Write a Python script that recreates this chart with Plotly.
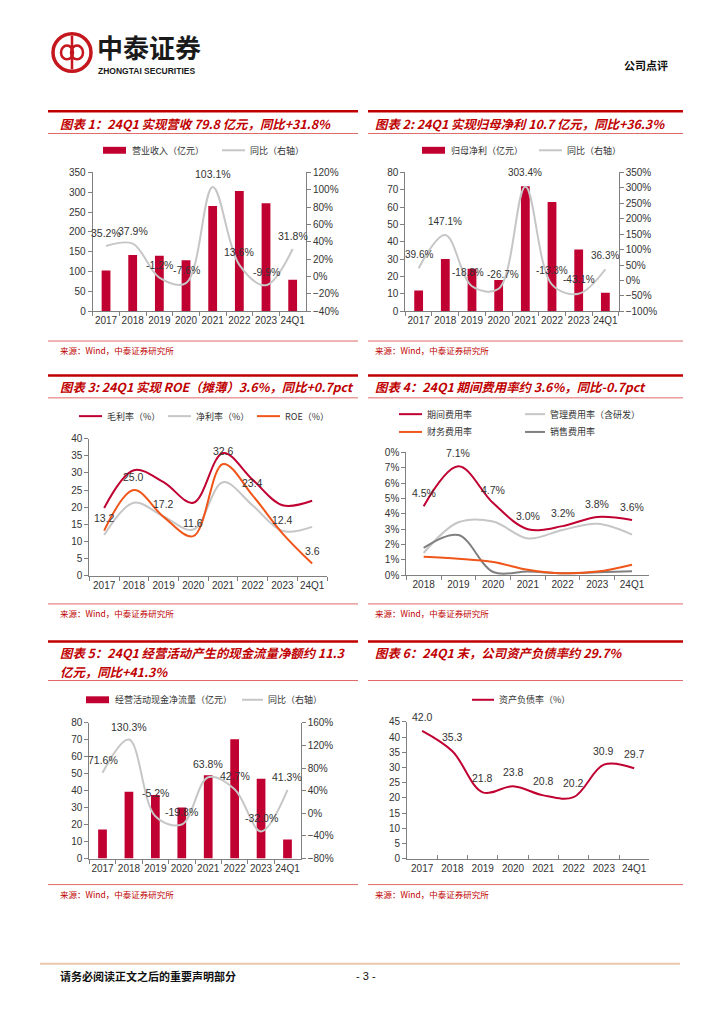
import plotly.graph_objects as go

W, H = 724, 1024
def X(p): return p / W
def Y(p): return 1 - p / H

# ---------------- data ----------------
cats8 = ["2017", "2018", "2019", "2020", "2021", "2022", "2023", "24Q1"]
cats7 = ["2018", "2019", "2020", "2021", "2022", "2023", "24Q1"]

rev = [103, 142, 140, 129, 265, 303, 272, 79.8]
rev_yoy = [35.2, 37.9, -1.2, -7.6, 103.1, 13.6, -9.9, 31.8]

netp = [12.0, 30.1, 24.5, 18.0, 72.0, 63.0, 35.6, 10.7]
netp_yoy = [39.6, 147.1, -18.8, -26.7, 303.4, -13.3, -43.1, 36.3]

gross_m = [19.8, 30.8, 27.3, 21.3, 35.8, 28.0, 20.6, 21.9]
net_m = [11.9, 21.3, 17.3, 13.5, 27.3, 20.5, 13.1, 14.3]
roe = [13.2, 25.0, 17.2, 11.6, 32.6, 23.4, 12.4, 3.6]

exp_total = [4.5, 7.1, 4.7, 3.0, 3.2, 3.8, 3.6]
exp_admin = [1.45, 3.45, 3.5, 2.4, 2.95, 3.35, 2.65]
exp_fin = [1.2, 1.07, 0.86, 0.36, 0.13, 0.24, 0.69]
exp_sell = [1.78, 2.62, 0.21, 0.24, 0.13, 0.19, 0.26]
exp_ticktext = ["0%", "1%", "2%", "3%", "4%", "5%", "6%", "7%", "0%"]

ocf = [17.1, 39.4, 37.5, 30.1, 49.1, 70.3, 47.0, 11.3]
ocf_yoy = [71.6, 130.3, -5.2, -19.8, 63.8, 42.7, -32.0, 41.3]

debt = [42.0, 35.3, 21.8, 23.8, 20.8, 20.2, 30.9, 29.7]

# ---------------- styles ----------------
CJK = "Noto Sans CJK SC"
NUM = "Liberation Sans, Arial, sans-serif"
RED = "#c00031"
TITLE_RED = "#c00000"
ORANGE = "#f0561a"
LGRAY = "#c6c6c6"
DGRAY = "#808080"
AXC = "#808080"
TXT = "#333333"

fig = go.Figure()

def ax(**kw):
    d = dict(showgrid=False, zeroline=False, showline=True, linecolor=AXC, linewidth=1,
             ticks="outside", ticklen=4, tickcolor=AXC, tickwidth=1,
             tickfont=dict(family=NUM, size=10, color=TXT), fixedrange=True)
    d.update(kw)
    return d

def xcat(x0, x1, anchor, n, **kw):
    return ax(domain=[X(x0), X(x1)], anchor=anchor, type="category", tickangle=0,
              range=[-0.5, n - 0.5], tickson="boundaries", **kw)

annotations = []
shapes = []

def lab(xref, yref, ys, texts, shifts, xshifts=None, size=10.5):
    if xshifts is None:
        xshifts = [0] * len(ys)
    for i, (y, t, s, xs) in enumerate(zip(ys, texts, shifts, xshifts)):
        annotations.append(dict(x=i, y=y, xref=xref, yref=yref, text=t, showarrow=False,
                                yshift=s, xshift=xs, xanchor="center", yanchor="middle",
                                font=dict(family=NUM, size=size, color=TXT)))

def line_trace(x, y, xa, ya, color, width=2):
    fig.add_trace(go.Scatter(x=x, y=y, xaxis=xa, yaxis=ya, mode="lines",
                             line=dict(color=color, width=width, shape="spline", smoothing=1.0),
                             hoverinfo="skip"))

def bar_trace(x, y, xa, ya):
    fig.add_trace(go.Bar(x=x, y=y, xaxis=xa, yaxis=ya, marker=dict(color=RED, line=dict(width=0)),
                         width=0.33, hoverinfo="skip"))

# Chart 1
bar_trace(cats8, rev, "x", "y")
line_trace(cats8, rev_yoy, "x", "y2", LGRAY)
lab("x", "y2", rev_yoy, [f"{v:.1f}%" for v in rev_yoy], [13] * 8)

# Chart 2
bar_trace(cats8, netp, "x2", "y3")
line_trace(cats8, netp_yoy, "x2", "y4", LGRAY)
lab("x2", "y4", netp_yoy, [f"{v:.1f}%" for v in netp_yoy], [14] * 8,
    xshifts=[0, 0, -4, 4, 0, 0, 0, 0], size=10)

# Chart 3
line_trace(cats8, gross_m, "x3", "y5", RED)
line_trace(cats8, net_m, "x3", "y5", LGRAY)
line_trace(cats8, roe, "x3", "y5", ORANGE)
lab("x3", "y5", roe, [f"{v:.1f}" for v in roe], [13] * 8)

# Chart 4
line_trace(cats7, exp_admin, "x4", "y6", LGRAY)
line_trace(cats7, exp_sell, "x4", "y6", DGRAY)
line_trace(cats7, exp_fin, "x4", "y6", ORANGE)
line_trace(cats7, exp_total, "x4", "y6", RED)
lab("x4", "y6", exp_total, [f"{v:.1f}%" for v in exp_total], [13] * 7)

# Chart 5
bar_trace(cats8, ocf, "x5", "y7")
line_trace(cats8, ocf_yoy, "x5", "y8", LGRAY)
lab("x5", "y8", ocf_yoy, [f"{v:.1f}%" for v in ocf_yoy], [13, 13, 23, 13, 13, 13, 13, 13])

# Chart 6
line_trace(cats8, debt, "x6", "y9", RED)
lab("x6", "y9", debt, [f"{v:.1f}" for v in debt], [14] * 8)

layout_axes = dict(
    xaxis=xcat(92.7, 306, "y", 8),
    yaxis=ax(domain=[Y(309), Y(168.3)], anchor="x", range=[0, 350], dtick=50),
    yaxis2=ax(overlaying="y", anchor="x", side="right", range=[-40, 120], dtick=20, ticksuffix="%"),

    xaxis2=xcat(405.3, 618.7, "y3", 8),
    yaxis3=ax(domain=[Y(309), Y(168.3)], anchor="x2", range=[0, 80], dtick=10),
    yaxis4=ax(overlaying="y3", anchor="x2", side="right", range=[-100, 350], dtick=50, ticksuffix="%"),

    xaxis3=xcat(89.3, 327, "y5", 8),
    yaxis5=ax(domain=[Y(576.7), Y(437.7)], anchor="x3", range=[0, 40], dtick=5),

    xaxis4=xcat(406.3, 649.4, "y6", 7),
    yaxis6=ax(domain=[Y(576), Y(451.7)], anchor="x4", range=[0, 8],
              tickmode="array", tickvals=list(range(9)), ticktext=exp_ticktext),

    xaxis5=xcat(89.3, 300.7, "y7", 8),
    yaxis7=ax(domain=[Y(862.7), Y(725.3)], anchor="x5", range=[0, 80], dtick=10),
    yaxis8=ax(overlaying="y7", anchor="x5", side="right", range=[-80, 160], dtick=40, ticksuffix="%"),

    xaxis6=xcat(407, 649.3, "y9", 8, ticks="inside"),
    yaxis9=ax(domain=[Y(862.7), Y(724.3)], anchor="x6", range=[0, 45], dtick=5),
)

# ---------------- page decorations ----------------
def hline(x0, x1, y, color, width):
    shapes.append(dict(type="line", xref="paper", yref="paper", x0=X(x0), x1=X(x1), y0=Y(y), y1=Y(y),
                       line=dict(color=color, width=width)))

def text(x, y, t, size, color=TXT, family=CJK, xanchor="left", bold=False, italic=False):
    if italic:
        t = f"<i>{t}</i>"
    if bold:
        t = f"<b>{t}</b>"
    annotations.append(dict(x=X(x), y=Y(y), xref="paper", yref="paper", text=t, showarrow=False,
                            xanchor=xanchor, yanchor="middle", font=dict(family=family, size=size, color=color)))

THIN = "#e06a6a"
for (l0, l1) in [(48, 358), (368, 683)]:
    hline(l0, l1, 106.5, TITLE_RED, 2.5)
    hline(l0, l1, 129, THIN, 1)
    hline(l0, l1, 339, THIN, 1)
    hline(l0, l1, 374, TITLE_RED, 2.5)
    hline(l0, l1, 396.5, THIN, 1)
    hline(l0, l1, 605, THIN, 1)
    hline(l0, l1, 643, TITLE_RED, 2.5)
    hline(l0, l1, 682.5, THIN, 1)
    hline(l0, l1, 889, THIN, 1)

TS = 12.4
# Titles
text(58, 119, "图表 1：24Q1 实现营收 79.8 亿元，同比+31.8%", TS, TITLE_RED, bold=True, italic=True)
text(373, 119, "图表 2: 24Q1 实现归母净利 10.7 亿元，同比+36.3%", TS, TITLE_RED, bold=True, italic=True)
text(58, 386, "图表 3: 24Q1 实现 ROE（摊薄）3.6%，同比+0.7pct", TS, TITLE_RED, bold=True, italic=True)
text(373, 386, "图表 4：24Q1 期间费用率约 3.6%，同比-0.7pct", TS, TITLE_RED, bold=True, italic=True)
text(58, 655, "图表 5：24Q1 经营活动产生的现金流量净额约 11.3", TS, TITLE_RED, bold=True, italic=True)
text(58, 674, "亿元，同比+41.3%", TS, TITLE_RED, bold=True, italic=True)
text(373, 655, "图表 6：24Q1 末，公司资产负债率约 29.7%", TS, TITLE_RED, bold=True, italic=True)

# Sources
for sy in (348, 614, 899):
    text(58, sy, "来源：Wind，中泰证券研究所", 8.5, TITLE_RED)
    text(373, sy, "来源：Wind，中泰证券研究所", 8.5, TITLE_RED)

# Legends
def leg_bar(x0, y, t):
    shapes.append(dict(type="rect", xref="paper", yref="paper", x0=X(x0), x1=X(x0 + 23),
                       y0=Y(y + 3.5), y1=Y(y - 3.5), fillcolor=RED, line=dict(width=0)))
    text(x0 + 27, y, t, 9, TXT)

def leg_line(x0, y, color, t, w=23):
    shapes.append(dict(type="line", xref="paper", yref="paper", x0=X(x0), x1=X(x0 + w),
                       y0=Y(y), y1=Y(y), line=dict(color=color, width=2)))
    text(x0 + w + 3, y, t, 9, TXT)

leg_bar(103, 146, "营业收入（亿元）")
leg_line(222, 146, LGRAY, "同比（右轴）")
leg_bar(422, 146, "归母净利（亿元）")
leg_line(539, 146, LGRAY, "同比（右轴）")
leg_line(79, 415, RED, "毛利率（%）")
leg_line(168, 415, LGRAY, "净利率（%）")
leg_line(257, 415, ORANGE, "ROE（%）")
leg_line(399, 413, RED, "期间费用率")
leg_line(525, 413, LGRAY, "管理费用率（含研发）", w=20)
leg_line(399, 431, ORANGE, "财务费用率")
leg_line(525, 431, DGRAY, "销售费用率", w=20)
leg_bar(86, 702, "经营活动现金净流量（亿元）")
leg_line(242, 702, LGRAY, "同比（右轴）", w=21)
leg_line(472, 702, RED, "资产负债率（%）", w=22)

# Header logo
LOGO = "#c4161c"
shapes.append(dict(type="circle", xref="paper", yref="paper", x0=X(53), x1=X(91), y0=Y(66), y1=Y(28),
                   line=dict(color=LOGO, width=3.5)))
shapes.append(dict(type="circle", xref="paper", yref="paper", x0=X(61), x1=X(73), y0=Y(54), y1=Y(40),
                   line=dict(color=LOGO, width=2.5)))
shapes.append(dict(type="circle", xref="paper", yref="paper", x0=X(71), x1=X(83), y0=Y(54), y1=Y(40),
                   line=dict(color=LOGO, width=2.5)))
shapes.append(dict(type="line", xref="paper", yref="paper", x0=X(72), x1=X(72), y0=Y(64), y1=Y(30),
                   line=dict(color=LOGO, width=2.5)))
text(95, 40.5, "中泰证券", 26, "#1a1a1a", bold=True)
text(96, 66, "ZHONGTAI SECURITIES", 8.5, "#1a1a1a", family=NUM, bold=True)
text(670, 60, "公司点评", 11, "#111111", xanchor="right", bold=True)

# Footer
hline(40, 680, 969, "#e8c9b0", 2)
text(58, 982, "请务必阅读正文之后的重要声明部分", 11, "#111111", bold=True)
text(366, 982, "- 3 -", 11, "#111111", family=NUM, xanchor="center")

fig.update_layout(
    width=W, height=H, margin=dict(l=0, r=0, t=0, b=0, pad=0),
    paper_bgcolor="white", plot_bgcolor="rgba(0,0,0,0)",
    showlegend=False, hovermode=False,
    shapes=shapes, annotations=annotations,
    **layout_axes,
)

fig.write_html("out.html", config={"displayModeBar": False, "staticPlot": True},
               post_script="document.body.style.margin='0';")
